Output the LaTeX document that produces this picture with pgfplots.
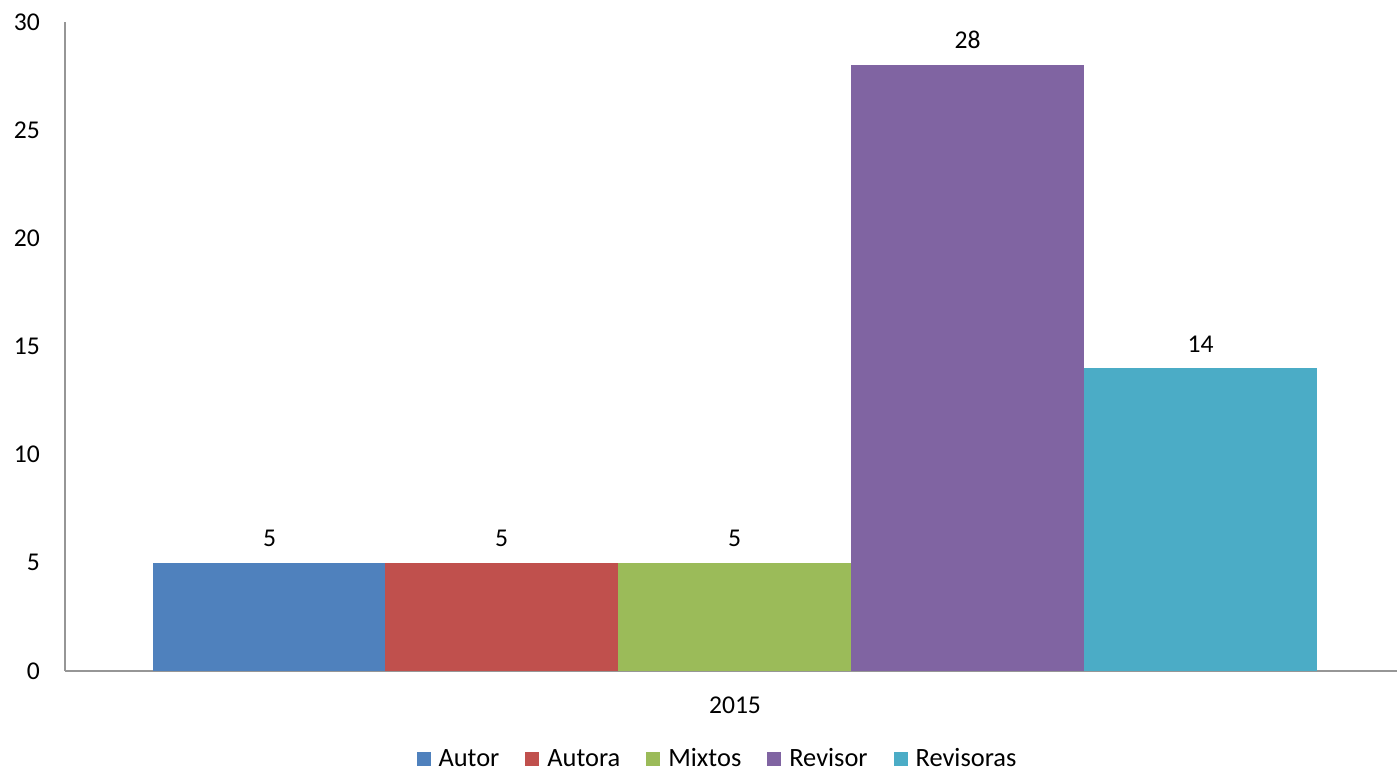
\documentclass[border=0pt]{standalone}
\usepackage{fontspec}
\setmainfont{Carlito}
\usepackage{pgfplots}
\pgfplotsset{compat=1.18}
\definecolor{cA}{HTML}{4F81BD}
\definecolor{cB}{HTML}{C0504D}
\definecolor{cC}{HTML}{9BBB59}
\definecolor{cD}{HTML}{8064A2}
\definecolor{cE}{HTML}{4BACC6}
\definecolor{axgray}{HTML}{969696}
\begin{document}
\begin{tikzpicture}
\begin{axis}[
  scale only axis,
  width=666pt, height=324.5pt,
  xmin=65, xmax=1397,
  ymin=0, ymax=30,
  ytick={0,5,...,30},
  xtick={735}, xticklabels={2015},
  axis x line=bottom, axis y line=left,
  axis line style={axgray, line width=1pt, -},
  major tick length=0pt,
  tick label style={font=\fontsize{12.8}{15}\selectfont},
  /pgf/number format/assume math mode=true,
  yticklabel style={xshift=-9pt},
  xticklabel style={yshift=-9.5pt},
  ybar, bar shift=0pt, bar width=233,
  nodes near coords,
  every node near coord/.append style={font=\fontsize{12.8}{15}\selectfont, black, yshift=4.5pt},
  legend style={at={(0.4906,-0.136)}, anchor=center, draw=none, legend columns=-1,
    font=\fontsize{13.2}{15}\selectfont,
    /tikz/every odd column/.append style={column sep=2pt},
    /tikz/every even column/.append style={column sep=11pt}},
  legend image code/.code={\fill[#1] (0pt,-3.5pt) rectangle (7pt,3.5pt);},
]
\addplot[fill=cA, draw=none] coordinates {(269.5,5)};
\addlegendentry{Autor}
\addplot[fill=cB, draw=none] coordinates {(501.5,5)};
\addlegendentry{Autora}
\addplot[fill=cC, draw=none] coordinates {(734.5,5)};
\addlegendentry{Mixtos}
\addplot[fill=cD, draw=none] coordinates {(967.5,28)};
\addlegendentry{Revisor}
\addplot[fill=cE, draw=none] coordinates {(1200.5,14)};
\addlegendentry{Revisoras}
\end{axis}
\pgfresetboundingbox
\path (current axis.south west) ++(-32.5pt,-54pt) coordinate (bbA);
\path (current axis.north east) ++(0pt,11pt) coordinate (bbB);
\useasboundingbox (bbA) rectangle (bbB);
\end{tikzpicture}
\end{document}
